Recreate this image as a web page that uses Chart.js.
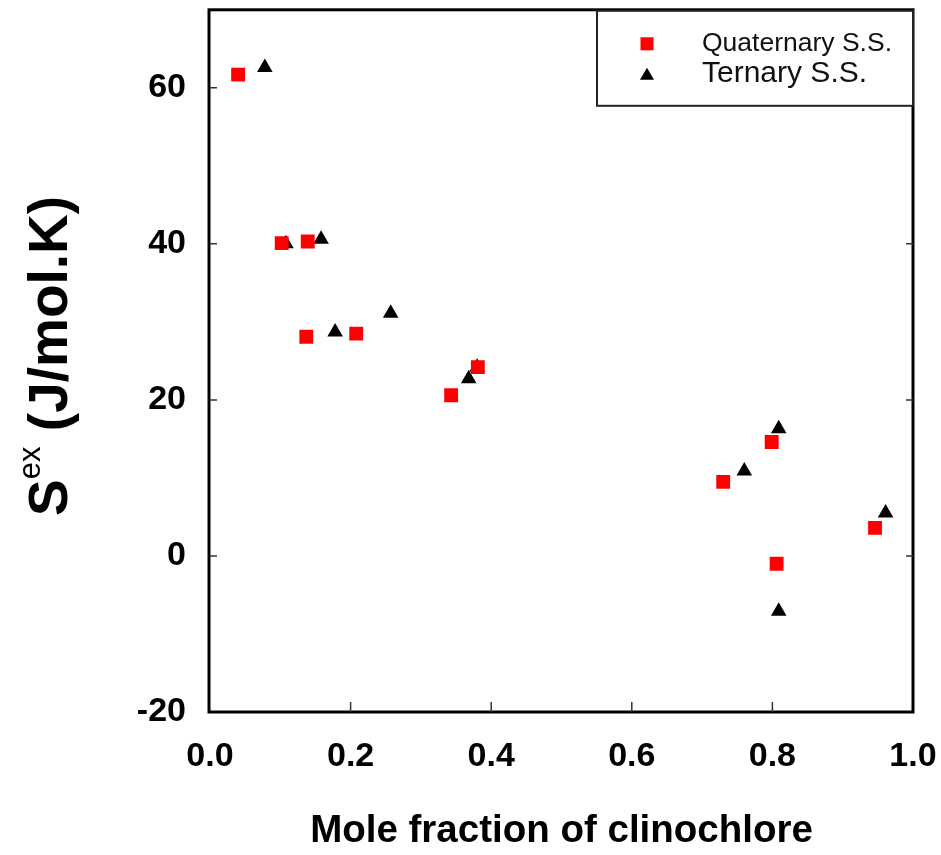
<!DOCTYPE html>
<html>
<head>
<meta charset="utf-8">
<script src="https://cdn.jsdelivr.net/npm/chart.js@4/dist/chart.umd.min.js"></script>
<style>
  html, body { margin: 0; padding: 0; background: #fff; }
  #wrap { width: 941px; height: 855px; }
</style>
</head>
<body>
<div id="wrap"><canvas id="sexChart" width="941" height="855"></canvas></div>
<script>
// ==========================================
// Data
// ==========================================
const quatX = [0.040, 0.102, 0.139, 0.137, 0.208, 0.343, 0.381, 0.730, 0.799, 0.806, 0.946];
const quatY = [61.7, 40.1, 40.3, 28.1, 28.5, 20.6, 24.2, 9.5, 14.6, -1.0, 3.6];

const ternX = [0.078, 0.108, 0.158, 0.178, 0.257, 0.368, 0.380, 0.760, 0.809, 0.809, 0.961];
const ternY = [62.6, 40.0, 40.6, 28.7, 31.1, 22.7, 24.2, 10.9, 16.3, -7.1, 5.5];

const xTicks = [0, 0.2, 0.4, 0.6, 0.8, 1.0];
const yTicks = [-20, 0, 20, 40, 60];

const LABELS = ['Quaternary S.S.', 'Ternary S.S.'];
const FONT = '"Liberation Sans", Arial, Helvetica, sans-serif';

const toPts = (xs, ys) => xs.map((x, i) => ({ x, y: ys[i] }));

// no extra room for overflowing tick labels: the frame sits where the layout padding says
function noOverflow(s) {
    s.paddingTop = 0; s.paddingBottom = 0;
    s.paddingLeft = 0; s.paddingRight = 0;
}

// ==========================================
// Plugins: frame + inward ticks, legend box, y title
// ==========================================
const framePlugin = {
    id: 'frame',
    afterDraw(chart) {
        const { ctx, chartArea: a, scales } = chart;
        ctx.save();
        ctx.strokeStyle = '#000';
        ctx.lineWidth = 3;
        ctx.strokeRect(a.left - 1, a.top, a.right - a.left + 1, a.bottom - a.top);

        ctx.lineWidth = 1.5;
        ctx.strokeStyle = '#333';
        ctx.beginPath();
        yTicks.forEach(v => {
            if (v === -20) return;
            const py = scales.y.getPixelForValue(v);
            ctx.moveTo(a.left, py); ctx.lineTo(a.left + 7, py);
            ctx.moveTo(a.right, py); ctx.lineTo(a.right - 7, py);
        });
        xTicks.forEach(v => {
            if (v === 0 || v === 1) return;
            const px = scales.x.getPixelForValue(v);
            ctx.moveTo(px, a.bottom); ctx.lineTo(px, a.bottom - 10);
        });
        ctx.stroke();
        ctx.restore();
    }
};

const legendPlugin = {
    id: 'boxLegend',
    afterDraw(chart) {
        const { ctx, chartArea: a } = chart;
        const bx = a.right - 316, by = a.top + 1, bw = 316, bh = 95;
        ctx.save();
        ctx.fillStyle = '#fff';
        ctx.fillRect(bx, by, bw, bh);
        ctx.strokeStyle = '#222';
        ctx.lineWidth = 2;
        ctx.strokeRect(bx, by, bw, bh);

        const mx = bx + 50;
        // square
        const ds0 = chart.data.datasets[0];
        ctx.fillStyle = ds0.backgroundColor;
        ctx.fillRect(mx - 6.5, by + 33 - 6.5, 13, 13);
        // triangle
        const ds1 = chart.data.datasets[1];
        ctx.fillStyle = ds1.backgroundColor;
        const ty = by + 63;
        ctx.beginPath();
        ctx.moveTo(mx, ty - 6);
        ctx.lineTo(mx + 7, ty + 6);
        ctx.lineTo(mx - 7, ty + 6);
        ctx.closePath();
        ctx.fill();

        ctx.fillStyle = '#111';
        ctx.textBaseline = 'middle';
        ctx.textAlign = 'left';
        ctx.font = '26.5px ' + FONT;
        ctx.fillText(LABELS[0], bx + 105, by + 33);
        ctx.font = '30px ' + FONT;
        ctx.fillText(LABELS[1], bx + 105, by + 63);
        ctx.restore();
    }
};

const yTitlePlugin = {
    id: 'yTitle',
    afterDraw(chart) {
        const { ctx, chartArea: a } = chart;
        const big = 'bold 55px ' + FONT;
        const small = '31px ' + FONT;
        ctx.save();
        ctx.fillStyle = '#000';
        ctx.textBaseline = 'alphabetic';
        ctx.font = big;
        const wS = ctx.measureText('S').width;
        const wRest = ctx.measureText(' (J/mol.K)').width;
        ctx.font = small;
        const wEx = ctx.measureText('ex').width;
        const total = wS + wEx + wRest;
        ctx.translate(67, (a.top + a.bottom) / 2 - 5);
        ctx.rotate(-Math.PI / 2);
        let x = -total / 2;
        ctx.font = big;
        ctx.fillText('S', x, 0);
        x += wS;
        ctx.font = small;
        ctx.fillText('ex', x, -27);
        x += wEx;
        ctx.font = big;
        ctx.fillText(' (J/mol.K)', x, 0);
        ctx.restore();
    }
};

// ==========================================
// Chart
// ==========================================
const ctx = document.getElementById('sexChart').getContext('2d');
new Chart(ctx, {
    type: 'scatter',
    data: {
        datasets: [
            {
                label: LABELS[0],
                data: toPts(quatX, quatY),
                pointStyle: 'rect',
                pointRadius: 9.8,
                borderWidth: 0,
                backgroundColor: '#ff0000',
                borderColor: '#ff0000'
            },
            {
                label: LABELS[1],
                data: toPts(ternX, ternY),
                pointStyle: 'triangle',
                pointRadius: 9,
                borderWidth: 0,
                backgroundColor: '#000000',
                borderColor: '#000000'
            }
        ]
    },
    options: {
        responsive: false,
        animation: false,
        layout: { padding: { top: 7, right: 28, left: 0, bottom: 0 } },
        scales: {
            x: {
                type: 'linear', min: 0, max: 1,
                afterFit: s => { s.height = 143; noOverflow(s); },
                afterBuildTicks: s => { s.ticks = xTicks.map(v => ({ value: v })); },
                grid: { display: false, drawTicks: false },
                border: { display: false },
                ticks: {
                    padding: 24,
                    color: '#000',
                    font: { family: FONT, size: 34, weight: 'bold' },
                    callback: v => Number(v).toFixed(1)
                },
                title: {
                    display: true,
                    text: 'Mole fraction of clinochlore',
                    color: '#000',
                    font: { family: FONT, size: 38.5, weight: 'bold' },
                    padding: { top: 0, bottom: 1 }
                }
            },
            y: {
                type: 'linear', min: -20, max: 70,
                afterFit: s => { s.width = 210; noOverflow(s); },
                afterBuildTicks: s => { s.ticks = yTicks.map(v => ({ value: v })); },
                grid: { display: false, drawTicks: false },
                border: { display: false },
                ticks: {
                    padding: 24,
                    color: '#000',
                    font: { family: FONT, size: 34, weight: 'bold' }
                }
            }
        },
        plugins: {
            legend: { display: false },
            tooltip: { enabled: false }
        }
    },
    plugins: [framePlugin, legendPlugin, yTitlePlugin]
});
</script>
</body>
</html>
